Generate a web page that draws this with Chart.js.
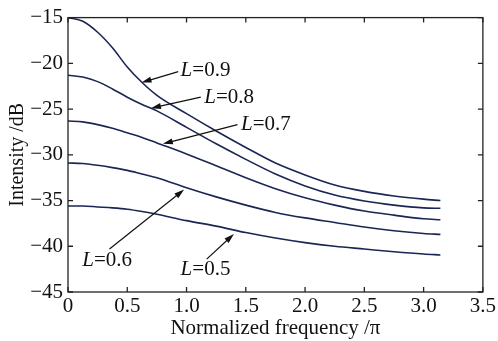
<!DOCTYPE html>
<html>
<head>
<meta charset="utf-8">
<script src="https://cdn.jsdelivr.net/npm/chart.js@4.4.1/dist/chart.umd.min.js"></script>
<style>
  html, body { margin: 0; padding: 0; background: #fff; }
  #wrap { width: 498px; height: 341px; }
</style>
</head>
<body>
<div id="wrap"><canvas id="chart"></canvas></div>
<script>
// normalized frequency (x / pi)
const freq = [0, 0.125, 0.25, 0.375, 0.5, 0.625, 0.75, 1.0, 1.25, 1.5, 1.75, 2.0, 2.25, 2.5, 2.75, 3.0, 3.1416];

// intensity in dB for each L
const intensityL09 = [-15.0, -15.4, -16.6, -18.3, -20.4, -22.1, -23.5, -25.5, -27.4, -29.2, -30.9, -32.2, -33.3, -34.0, -34.5, -34.85, -35.0];
const intensityL08 = [-21.3, -21.5, -22.0, -22.8, -23.7, -24.5, -25.2, -27.0, -28.8, -30.5, -32.1, -33.4, -34.4, -35.05, -35.5, -35.8, -35.85];
const intensityL07 = [-26.3, -26.4, -26.7, -27.1, -27.6, -28.1, -28.7, -29.9, -31.2, -32.5, -33.7, -34.7, -35.5, -36.15, -36.6, -37.0, -37.1];
const intensityL06 = [-30.9, -30.95, -31.15, -31.4, -31.7, -32.1, -32.5, -33.6, -34.6, -35.5, -36.3, -36.9, -37.4, -37.9, -38.3, -38.6, -38.7];
const intensityL05 = [-35.6, -35.6, -35.7, -35.8, -35.95, -36.2, -36.5, -37.2, -37.8, -38.5, -39.1, -39.6, -40.0, -40.3, -40.6, -40.85, -40.95];

const seriesLabels = ['0.9', '0.8', '0.7', '0.6', '0.5'];
const xTicks = [0, 0.5, 1.0, 1.5, 2.0, 2.5, 3.0, 3.5];
const yTicks = [-45, -40, -35, -30, -25, -20, -15];

const allSeries = [intensityL09, intensityL08, intensityL07, intensityL06, intensityL05];

// where each "L=..." note sits and where its arrow points (data units)
const notes = [
  { text: [0.95, -20.8], from: [0.93, -20.9], to: [0.62, -22.1] },
  { text: [1.15, -23.7], from: [1.12, -23.7], to: [0.70, -24.9] },
  { text: [1.46, -26.7], from: [1.43, -26.7], to: [0.80, -28.8] },
  { text: [0.12, -41.5], from: [0.35, -40.3], to: [0.98, -33.8] },
  { text: [0.95, -42.55], from: [1.17, -41.4], to: [1.40, -38.65] }
];

const serif = '"Liberation Serif", "DejaVu Serif", serif';
const minus = v => String(v).replace('-', '\u2212');

const frameAndNotes = {
  id: 'frameAndNotes',
  afterDatasetsDraw(chart) {
    const { ctx, chartArea: a, scales: { x, y } } = chart;
    ctx.save();
    // box
    ctx.strokeStyle = '#222';
    ctx.lineWidth = 1.3;
    ctx.strokeRect(a.left, a.top, a.right - a.left, a.bottom - a.top);
    // inward ticks on all sides
    ctx.beginPath();
    xTicks.forEach(v => {
      const px = x.getPixelForValue(v);
      ctx.moveTo(px, a.bottom); ctx.lineTo(px, a.bottom - 5);
      ctx.moveTo(px, a.top); ctx.lineTo(px, a.top + 5);
    });
    yTicks.forEach(v => {
      const py = y.getPixelForValue(v);
      ctx.moveTo(a.left, py); ctx.lineTo(a.left + 5, py);
      ctx.moveTo(a.right, py); ctx.lineTo(a.right - 5, py);
    });
    ctx.stroke();

    // arrows and labels
    ctx.fillStyle = '#111';
    ctx.strokeStyle = '#111';
    ctx.lineWidth = 1.2;
    notes.forEach((n, i) => {
      const x0 = x.getPixelForValue(n.from[0]), y0 = y.getPixelForValue(n.from[1]);
      const x1 = x.getPixelForValue(n.to[0]), y1 = y.getPixelForValue(n.to[1]);
      const ang = Math.atan2(y1 - y0, x1 - x0);
      ctx.beginPath();
      ctx.moveTo(x0, y0);
      ctx.lineTo(x1 - 6 * Math.cos(ang), y1 - 6 * Math.sin(ang));
      ctx.stroke();
      ctx.beginPath();
      ctx.moveTo(x1, y1);
      ctx.lineTo(x1 - 10 * Math.cos(ang) + 3 * Math.sin(ang), y1 - 10 * Math.sin(ang) - 3 * Math.cos(ang));
      ctx.lineTo(x1 - 10 * Math.cos(ang) - 3 * Math.sin(ang), y1 - 10 * Math.sin(ang) + 3 * Math.cos(ang));
      ctx.closePath();
      ctx.fill();

      const tx = x.getPixelForValue(n.text[0]), ty = y.getPixelForValue(n.text[1]);
      ctx.textBaseline = 'middle';
      ctx.textAlign = 'left';
      ctx.font = 'italic 21px ' + serif;
      ctx.fillText('L', tx, ty);
      const w = ctx.measureText('L').width;
      ctx.font = '21px ' + serif;
      ctx.fillText('=' + seriesLabels[i], tx + w, ty);
    });
    ctx.restore();
  }
};

new Chart(document.getElementById('chart'), {
  type: 'scatter',
  data: {
    datasets: allSeries.map((s, i) => ({
      label: 'L=' + seriesLabels[i],
      data: freq.map((f, j) => ({ x: f, y: s[j] })),
      showLine: true,
      borderColor: '#1a2654',
      borderWidth: 1.6,
      pointRadius: 0,
      cubicInterpolationMode: 'monotone'
    }))
  },
  options: {
    responsive: true,
    maintainAspectRatio: false,
    animation: false,
    layout: { padding: { top: 15, right: 12, left: 0, bottom: 0 } },
    plugins: { legend: { display: false }, tooltip: { enabled: false } },
    scales: {
      x: {
        type: 'linear',
        min: 0,
        max: 3.5,
        afterBuildTicks: s => { s.ticks = xTicks.map(v => ({ value: v })); },
        afterFit: s => { s.height = 49; },
        grid: { display: false, drawTicks: false },
        border: { display: false },
        ticks: {
          color: '#111',
          padding: 2,
          font: { family: serif, size: 21 },
          callback: v => (v === 0 ? '0' : v.toFixed(1))
        },
        title: {
          display: true,
          text: 'Normalized frequency /\u03c0',
          color: '#111',
          padding: { top: 0, bottom: 0 },
          font: { family: serif, size: 21 }
        }
      },
      y: {
        min: -45,
        max: -15,
        afterBuildTicks: s => { s.ticks = yTicks.map(v => ({ value: v })); },
        afterFit: s => { s.width = 68; },
        grid: { display: false, drawTicks: false },
        border: { display: false },
        ticks: {
          color: '#111',
          padding: 5,
          font: { family: serif, size: 21 },
          callback: v => minus(v)
        },
        title: {
          display: true,
          text: 'Intensity /dB',
          color: '#111',
          padding: { top: 6, bottom: 0 },
          font: { family: serif, size: 20 }
        }
      }
    }
  },
  plugins: [frameAndNotes]
});
</script>
</body>
</html>
